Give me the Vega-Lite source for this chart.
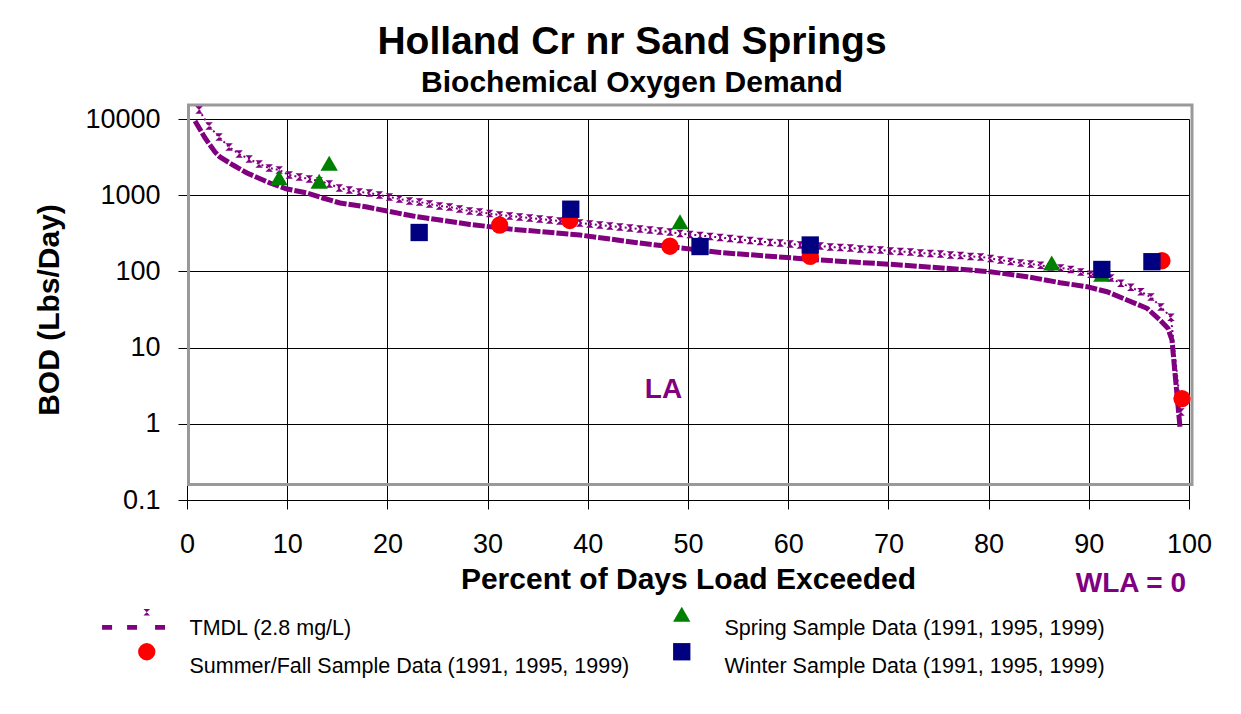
{
  "$schema": "https://vega.github.io/schema/vega-lite/v6.json",
  "width": 1002,
  "height": 381,
  "autosize": {"type": "none"},
  "padding": {"left": 187, "top": 119, "right": 52, "bottom": 214},
  "background": "white",
  "config": {"view": {"stroke": null}, "font": "Liberation Sans"},
  "title": {
    "text": "Holland Cr nr Sand Springs",
    "subtitle": "Biochemical Oxygen Demand",
    "font": "Liberation Sans",
    "subtitleFont": "Liberation Sans",
    "fontSize": 39,
    "subtitleFontSize": 30,
    "fontWeight": "bold",
    "subtitleFontWeight": "bold",
    "color": "black",
    "subtitleColor": "black",
    "anchor": "middle",
    "frame": "group",
    "dx": -56,
    "offset": 5,
    "subtitlePadding": 6
  },
  "datasets": {
    "tmdl": [
      {"p": 1.2, "v": 13100}, {"p": 2.2, "v": 8090}, {"p": 3.2, "v": 5800}, {"p": 4.2, "v": 4290},
      {"p": 5.2, "v": 3470}, {"p": 6.2, "v": 2990}, {"p": 7.2, "v": 2570}, {"p": 8.2, "v": 2275},
      {"p": 9.2, "v": 2140}, {"p": 10.2, "v": 1840}, {"p": 11.2, "v": 1733}, {"p": 12.2, "v": 1632},
      {"p": 13.2, "v": 1537}, {"p": 14.2, "v": 1403}, {"p": 15.2, "v": 1243}, {"p": 16.2, "v": 1170},
      {"p": 17.2, "v": 1102}, {"p": 18.2, "v": 1069}, {"p": 19.2, "v": 1006}, {"p": 20.2, "v": 947},
      {"p": 21.2, "v": 891}, {"p": 22.2, "v": 839}, {"p": 23.2, "v": 814}, {"p": 24.2, "v": 766},
      {"p": 25.2, "v": 722}, {"p": 26.2, "v": 700}, {"p": 27.2, "v": 659}, {"p": 28.2, "v": 620},
      {"p": 29.2, "v": 602}, {"p": 30.2, "v": 575}, {"p": 31.2, "v": 550}, {"p": 32.2, "v": 533},
      {"p": 33.2, "v": 518}, {"p": 34.2, "v": 502}, {"p": 35.2, "v": 487}, {"p": 36.2, "v": 473},
      {"p": 37.2, "v": 459}, {"p": 38.2, "v": 445}, {"p": 39.2, "v": 432}, {"p": 40.2, "v": 419},
      {"p": 41.2, "v": 406}, {"p": 42.2, "v": 394}, {"p": 43.2, "v": 382}, {"p": 44.2, "v": 371},
      {"p": 45.2, "v": 360}, {"p": 46.2, "v": 349}, {"p": 47.2, "v": 339}, {"p": 48.2, "v": 329},
      {"p": 49.2, "v": 314}, {"p": 50.2, "v": 305}, {"p": 51.2, "v": 296}, {"p": 52.2, "v": 287},
      {"p": 53.2, "v": 279}, {"p": 54.2, "v": 270}, {"p": 55.2, "v": 262}, {"p": 56.2, "v": 254},
      {"p": 57.2, "v": 247}, {"p": 58.2, "v": 239}, {"p": 59.2, "v": 236}, {"p": 60.2, "v": 229},
      {"p": 61.2, "v": 222}, {"p": 62.2, "v": 219}, {"p": 63.2, "v": 215}, {"p": 64.2, "v": 209},
      {"p": 65.2, "v": 206}, {"p": 66.2, "v": 203}, {"p": 67.2, "v": 197}, {"p": 68.2, "v": 194},
      {"p": 69.2, "v": 191}, {"p": 70.2, "v": 185}, {"p": 71.2, "v": 182}, {"p": 72.2, "v": 180},
      {"p": 73.2, "v": 174}, {"p": 74.2, "v": 172}, {"p": 75.2, "v": 169}, {"p": 76.2, "v": 164},
      {"p": 77.2, "v": 162}, {"p": 78.2, "v": 157}, {"p": 79.2, "v": 155}, {"p": 80.2, "v": 148},
      {"p": 81.2, "v": 141}, {"p": 82.2, "v": 135}, {"p": 83.2, "v": 129}, {"p": 84.2, "v": 125},
      {"p": 85.2, "v": 120}, {"p": 86.2, "v": 114}, {"p": 87.2, "v": 111}, {"p": 88.2, "v": 106},
      {"p": 89.2, "v": 98}, {"p": 90.2, "v": 92}, {"p": 91.2, "v": 87}, {"p": 92.2, "v": 82},
      {"p": 93.2, "v": 70}, {"p": 94.2, "v": 62}, {"p": 95.2, "v": 54}, {"p": 96.2, "v": 46},
      {"p": 97.2, "v": 34}, {"p": 98.2, "v": 25}, {"p": 99.2, "v": 1.43}
    ],
    "la": [
      {"p": 0.8, "v": 9414}, {"p": 1.8, "v": 5632}, {"p": 2.79, "v": 3689}, {"p": 3.29, "v": 3172},
      {"p": 4.59, "v": 2490}, {"p": 5.99, "v": 1956}, {"p": 8.28, "v": 1446}, {"p": 9.98, "v": 1206},
      {"p": 11.98, "v": 1069}, {"p": 13.57, "v": 919}, {"p": 15.27, "v": 790}, {"p": 17.96, "v": 700},
      {"p": 19.96, "v": 620}, {"p": 22.55, "v": 533}, {"p": 25.25, "v": 473}, {"p": 28.24, "v": 413},
      {"p": 32.24, "v": 360}, {"p": 39.22, "v": 300}, {"p": 44.91, "v": 238}, {"p": 53.19, "v": 177},
      {"p": 63.17, "v": 141}, {"p": 70.16, "v": 124}, {"p": 77.15, "v": 106.6}, {"p": 80.14, "v": 99.1},
      {"p": 83.83, "v": 85.2}, {"p": 87.13, "v": 71.1}, {"p": 89.82, "v": 63}, {"p": 91.82, "v": 54.1},
      {"p": 93.81, "v": 42.1}, {"p": 95.81, "v": 32.8}, {"p": 97.11, "v": 23}, {"p": 97.9, "v": 17.9},
      {"p": 98.3, "v": 12.6}, {"p": 98.6, "v": 4.64}, {"p": 99.1, "v": 0.908}
    ],
    "samples": [
      {"p": 9.18, "v": 1690, "series": "Spring Sample Data (1991, 1995, 1999)"},
      {"p": 13.19, "v": 1528, "series": "Spring Sample Data (1991, 1995, 1999)"},
      {"p": 14.19, "v": 2621, "series": "Spring Sample Data (1991, 1995, 1999)"},
      {"p": 49.2, "v": 449, "series": "Spring Sample Data (1991, 1995, 1999)"},
      {"p": 86.3, "v": 129, "series": "Spring Sample Data (1991, 1995, 1999)"},
      {"p": 91.3, "v": 92, "series": "Spring Sample Data (1991, 1995, 1999)"},
      {"p": 31.2, "v": 406, "series": "Summer/Fall Sample Data (1991, 1995, 1999)"},
      {"p": 38.2, "v": 466, "series": "Summer/Fall Sample Data (1991, 1995, 1999)"},
      {"p": 48.2, "v": 214, "series": "Summer/Fall Sample Data (1991, 1995, 1999)"},
      {"p": 62.2, "v": 158, "series": "Summer/Fall Sample Data (1991, 1995, 1999)"},
      {"p": 97.3, "v": 138, "series": "Summer/Fall Sample Data (1991, 1995, 1999)"},
      {"p": 99.3, "v": 2.14, "series": "Summer/Fall Sample Data (1991, 1995, 1999)"},
      {"p": 23.17, "v": 324, "series": "Winter Sample Data (1991, 1995, 1999)"},
      {"p": 38.3, "v": 655, "series": "Winter Sample Data (1991, 1995, 1999)"},
      {"p": 51.2, "v": 212, "series": "Winter Sample Data (1991, 1995, 1999)"},
      {"p": 62.2, "v": 222, "series": "Winter Sample Data (1991, 1995, 1999)"},
      {"p": 91.3, "v": 106, "series": "Winter Sample Data (1991, 1995, 1999)"},
      {"p": 96.3, "v": 134, "series": "Winter Sample Data (1991, 1995, 1999)"}
    ]
  },
  "layer": [
    {
      "data": {"values": [{}]},
      "mark": {"type": "rect", "filled": false, "color": "#999999", "strokeWidth": 3, "clip": false},
      "encoding": {
        "x": {"datum": 0.15, "type": "quantitative", "title": "Percent of Days Load Exceeded"},
        "x2": {"datum": 100.3},
        "y": {"datum": 0.16, "type": "quantitative", "title": "BOD (Lbs/Day)"},
        "y2": {"datum": 15270}
      }
    },
    {
      "data": {"name": "la"},
      "mark": {"type": "line", "color": "#800080", "strokeWidth": 5, "strokeDash": [12, 2], "clip": false},
      "encoding": {
        "x": {
          "field": "p",
          "type": "quantitative",
          "title": "Percent of Days Load Exceeded",
          "scale": {"domain": [0, 100], "nice": false, "zero": false},
          "axis": {
            "values": [0, 10, 20, 30, 40, 50, 60, 70, 80, 90, 100],
            "grid": true,
            "gridColor": "black",
            "gridOpacity": 1,
            "gridWidth": 1,
            "domainColor": "black",
            "domainWidth": 1,
            "tickColor": "black",
            "tickSize": 9,
            "tickWidth": 1,
            "labelFont": "Liberation Sans",
            "labelFontSize": 27,
            "labelColor": "black",
            "labelPadding": 22,
            "labelFlush": false,
            "labelOverlap": false,
            "titleFont": "Liberation Sans",
            "titleFontSize": 30,
            "titleFontWeight": "bold",
            "titleColor": "black",
            "titlePadding": 7
          }
        },
        "y": {
          "field": "v",
          "type": "quantitative",
          "title": "BOD (Lbs/Day)",
          "scale": {"type": "log", "domain": [0.1, 10000], "nice": false},
          "axis": {
            "values": [0.1, 1, 10, 100, 1000, 10000],
            "labelExpr": "'' + datum.value",
            "grid": true,
            "gridColor": "black",
            "gridOpacity": 1,
            "gridWidth": 1,
            "domainColor": "black",
            "domainWidth": 1,
            "tickColor": "black",
            "tickSize": 9,
            "tickWidth": 1,
            "labelFont": "Liberation Sans",
            "labelFontSize": 27,
            "labelColor": "black",
            "labelPadding": 18,
            "labelFlush": false,
            "labelOverlap": false,
            "titleFont": "Liberation Sans",
            "titleFontSize": 30,
            "titleFontWeight": "bold",
            "titleColor": "black",
            "titlePadding": 20
          }
        }
      }
    },
    {
      "data": {"name": "tmdl"},
      "mark": {"type": "line", "color": "#800080", "strokeWidth": 2, "strokeDash": [2, 3], "clip": false},
      "encoding": {
        "x": {"field": "p", "type": "quantitative", "title": "Percent of Days Load Exceeded"},
        "y": {"field": "v", "type": "quantitative", "title": "BOD (Lbs/Day)"}
      }
    },
    {
      "data": {"name": "tmdl"},
      "mark": {"type": "point", "shape": "M-1,-1H1L-1,1H1Z", "filled": true, "color": "#800080", "size": 56, "opacity": 1, "clip": false},
      "encoding": {
        "x": {"field": "p", "type": "quantitative", "title": "Percent of Days Load Exceeded"},
        "y": {"field": "v", "type": "quantitative", "title": "BOD (Lbs/Day)"}
      }
    },
    {
      "data": {"name": "samples"},
      "mark": {"type": "point", "filled": true, "size": 300, "opacity": 1, "clip": false},
      "encoding": {
        "x": {"field": "p", "type": "quantitative", "title": "Percent of Days Load Exceeded"},
        "y": {"field": "v", "type": "quantitative", "title": "BOD (Lbs/Day)"},
        "color": {
          "field": "series",
          "type": "nominal",
          "scale": {
            "domain": ["TMDL (2.8 mg/L)", "Summer/Fall Sample Data (1991, 1995, 1999)", "Spring Sample Data (1991, 1995, 1999)", "Winter Sample Data (1991, 1995, 1999)"],
            "range": ["#800080", "#FF0000", "#008000", "#000080"]
          },
          "legend": {
            "title": null,
            "orient": "none",
            "legendX": -51,
            "legendY": 484,
            "columns": 2,
            "padding": 0,
            "symbolSize": 300,
            "labelFont": "Liberation Sans",
            "labelFontSize": 21.5,
            "labelColor": "black",
            "labelBaseline": "top",
            "labelOffset": 32,
            "labelLimit": 700,
            "columnPadding": 41,
            "rowPadding": 1,
            "symbolOpacity": 1,
            "symbolStrokeWidth": 0,
            "encode": {"labels": {"update": {"dy": {"value": 4}}}}
          }
        },
        "shape": {
          "field": "series",
          "type": "nominal",
          "scale": {
            "domain": ["TMDL (2.8 mg/L)", "Summer/Fall Sample Data (1991, 1995, 1999)", "Spring Sample Data (1991, 1995, 1999)", "Winter Sample Data (1991, 1995, 1999)"],
            "range": ["M-5.16,1.25H-4V1.8H-5.16Z M-2.27,1.25H-1.12V1.8H-2.27Z M0.96,1.25H2.11V1.8H0.96Z M-0.38,-0.6H0.38L-0.38,0.15H0.38Z", "circle", "triangle-up", "square"]
          },
          "legend": {
            "title": null,
            "orient": "none",
            "legendX": -51,
            "legendY": 484,
            "columns": 2,
            "padding": 0,
            "symbolSize": 300,
            "labelFont": "Liberation Sans",
            "labelFontSize": 21.5,
            "labelColor": "black",
            "labelBaseline": "top",
            "labelOffset": 32,
            "labelLimit": 700,
            "columnPadding": 41,
            "rowPadding": 1,
            "symbolOpacity": 1,
            "symbolStrokeWidth": 0,
            "encode": {"labels": {"update": {"dy": {"value": 4}}}}
          }
        }
      }
    },
    {
      "data": {"values": [{}]},
      "mark": {"type": "text", "text": "LA", "font": "Liberation Sans", "fontSize": 28, "fontWeight": "bold", "color": "#800080", "align": "center", "baseline": "alphabetic", "clip": false},
      "encoding": {
        "x": {"datum": 47.55, "type": "quantitative", "title": "Percent of Days Load Exceeded"},
        "y": {"datum": 2.18, "type": "quantitative", "title": "BOD (Lbs/Day)"}
      }
    },
    {
      "data": {"values": [{}]},
      "mark": {"type": "text", "text": "WLA = 0", "font": "Liberation Sans", "fontSize": 28, "fontWeight": "bold", "color": "#800080", "align": "center", "baseline": "alphabetic", "clip": false},
      "encoding": {
        "x": {"datum": 94.2, "type": "quantitative", "title": "Percent of Days Load Exceeded"},
        "y": {"datum": 0.0062, "type": "quantitative", "title": "BOD (Lbs/Day)"}
      }
    }
  ]
}
